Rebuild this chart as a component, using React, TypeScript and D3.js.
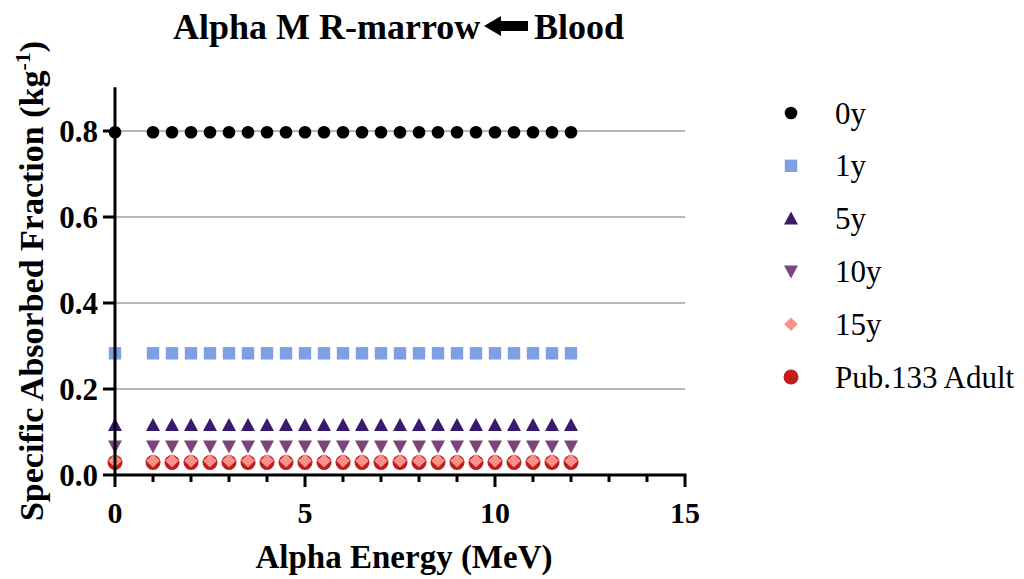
import React from "react";
import * as d3 from "d3";

const energies = [0, 1, 1.5, 2, 2.5, 3, 3.5, 4, 4.5, 5, 5.5, 6, 6.5, 7, 7.5, 8, 8.5, 9, 9.5, 10, 10.5, 11, 11.5, 12];
const saf0y = energies.map(() => 0.797);
const saf1y = energies.map(() => 0.283);
const saf5y = energies.map(() => 0.116);
const saf10y = energies.map(() => 0.066);
const saf15y = energies.map(() => 0.033);
const safAdult = energies.map(() => 0.029);

const seriesNames = ["0y", "1y", "5y", "10y", "15y", "Pub.133 Adult"];
const seriesColors = ["#000000", "#7f9fe3", "#371a6b", "#7e4578", "#f8928a", "#c01d1b"];
const seriesShapes = ["circle", "square", "triangle", "triangleDown", "diamond", "bigCircle"];
const xTicks = [0, 5, 10, 15];
const yTicks = [0, 0.2, 0.4, 0.6, 0.8];

const FONT = "'Liberation Serif', 'Times New Roman', Times, serif";

function Marker({ shape, x, y, color }: { shape: string; x: number; y: number; color: string }) {
  if (shape === "circle") return <circle cx={x} cy={y} r={6.3} fill={color} />;
  if (shape === "bigCircle") return <circle cx={x} cy={y} r={7.5} fill={color} />;
  if (shape === "square") return <rect x={x - 6.2} y={y - 6.2} width={12.4} height={12.4} fill={color} />;
  if (shape === "triangle")
    return <path d={`M${x},${y - 7}L${x + 7},${y + 6}L${x - 7},${y + 6}Z`} fill={color} />;
  if (shape === "triangleDown")
    return <path d={`M${x},${y + 7}L${x + 7},${y - 6}L${x - 7},${y - 6}Z`} fill={color} />;
  return <path d={`M${x},${y - 6.8}L${x + 6.8},${y}L${x},${y + 6.8}L${x - 6.8},${y}Z`} fill={color} />;
}

export default function App() {
  const width = 1024;
  const height = 579;
  const x = d3.scaleLinear().domain([0, 15]).range([115, 685]);
  const y = d3.scaleLinear().domain([0, 0.8]).range([475, 131]);
  const yTop = y(0.902);
  const values = [saf0y, saf1y, saf5y, saf10y, saf15y, safAdult];
  const drawOrder = [0, 1, 2, 3, 5, 4];
  const minorX = d3.range(1, 15).filter((v) => v % 5 !== 0);

  return (
    <svg
      width={width}
      height={height}
      style={{ position: "absolute", left: 0, top: 0, background: "#fff" }}
      fontFamily={FONT}
    >
      {/* title with a left-pointing arrow between the two organ names */}
      <g fontWeight="bold" fontSize={36} fill="#000">
        <text x={173} y={39}>Alpha M R-marrow</text>
        <path d="M484,26 L501,16 L501,21 L528,21 L528,31 L501,31 L501,36 Z" fill="#000" />
        <text x={534} y={39}>Blood</text>
      </g>

      {/* horizontal grid */}
      {yTicks.filter((t) => t > 0).map((t) => (
        <line key={t} x1={x(0)} x2={x(15)} y1={y(t)} y2={y(t)} stroke="#a0a0a0" strokeWidth={1.5} />
      ))}

      {/* data points */}
      {drawOrder.map((si) =>
        values[si].map((v, i) => (
          <Marker key={`${si}-${i}`} shape={seriesShapes[si]} x={x(energies[i])} y={y(v)} color={seriesColors[si]} />
        ))
      )}

      {/* axes */}
      <line x1={x(0)} x2={x(0)} y1={yTop} y2={y(0) + 1.5} stroke="#000" strokeWidth={3} />
      <line x1={x(0) - 1.5} x2={x(15) + 1.5} y1={y(0)} y2={y(0)} stroke="#000" strokeWidth={3} />
      {yTicks.map((t) => (
        <line key={t} x1={x(0) - 12} x2={x(0)} y1={y(t)} y2={y(t)} stroke="#000" strokeWidth={3} />
      ))}
      {xTicks.map((t) => (
        <line key={t} x1={x(t)} x2={x(t)} y1={y(0)} y2={y(0) + 12} stroke="#000" strokeWidth={3} />
      ))}
      {minorX.map((t) => (
        <line key={t} x1={x(t)} x2={x(t)} y1={y(0)} y2={y(0) + 7} stroke="#000" strokeWidth={3} />
      ))}

      <g fontWeight="bold" fill="#000">
        {yTicks.map((t) => (
          <text key={t} x={x(0) - 17} y={y(t) + 11} textAnchor="end" fontSize={31}>
            {t.toFixed(1)}
          </text>
        ))}
        {xTicks.map((t) => (
          <text key={t} x={x(t)} y={523} textAnchor="middle" fontSize={30}>
            {t}
          </text>
        ))}
      </g>

      <text x={404} y={568} textAnchor="middle" fontWeight="bold" fontSize={33}>
        Alpha Energy (MeV)
      </text>
      <text transform="translate(43,281) rotate(-90)" textAnchor="middle" fontWeight="bold" fontSize={34}>
        Specific Absorbed Fraction (kg
        <tspan dy={-13} fontSize={22}>-1</tspan>
        <tspan dy={13}>)</tspan>
      </text>

      {/* legend */}
      {seriesNames.map((name, i) => {
        const ly = 113 + i * 52.8;
        return (
          <g key={name}>
            <Marker shape={seriesShapes[i]} x={791} y={ly} color={seriesColors[i]} />
            <text x={835} y={ly + 10.5} fontSize={31} fill="#000">
              {name}
            </text>
          </g>
        );
      })}
    </svg>
  );
}
